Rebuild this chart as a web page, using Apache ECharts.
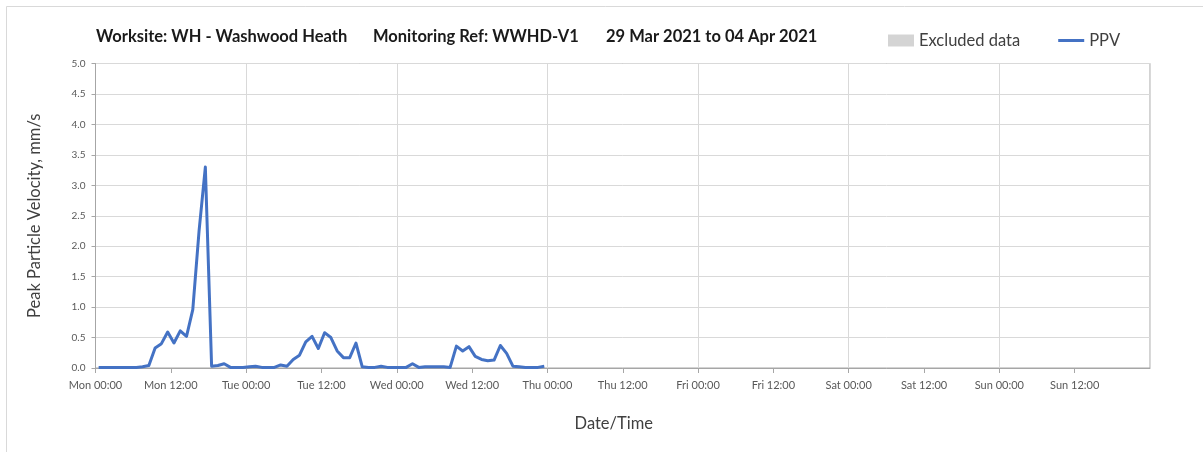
<!DOCTYPE html>
<html>
<head>
<meta charset="utf-8">
<title>PPV – WWHD-V1</title>
<script src="https://cdn.jsdelivr.net/npm/echarts@6/dist/echarts.min.js"></script>
<style>
  html, body { margin: 0; padding: 0; background: #ffffff; }
  #chart { width: 1203px; height: 452px; }
</style>
</head>
<body>
<div id="chart"></div>
<script>
// Hours elapsed since Mon 29 Mar 2021 00:00 for each hourly PPV reading
const sampleHours = [
  0.5, 1.5, 2.5, 3.5, 4.5, 5.5, 6.5, 7.5, 8.5, 9.5, 10.5, 11.5,
  12.5, 13.5, 14.5, 15.5, 16.5, 17.5, 18.5, 19.5, 20.5, 21.5, 22.5, 23.5,
  24.5, 25.5, 26.5, 27.5, 28.5, 29.5, 30.5, 31.5, 32.5, 33.5, 34.5, 35.5,
  36.5, 37.5, 38.5, 39.5, 40.5, 41.5, 42.5, 43.5, 44.5, 45.5, 46.5, 47.5,
  48.5, 49.5, 50.5, 51.5, 52.5, 53.5, 54.5, 55.5, 56.5, 57.5, 58.5, 59.5,
  60.5, 61.5, 62.5, 63.5, 64.5, 65.5, 66.5, 67.5, 68.5, 69.5, 70.5, 71.5
];

// Peak particle velocity, mm/s
const ppvValues = [
  0.01, 0.01, 0.01, 0.01, 0.01, 0.01, 0.01, 0.02, 0.04, 0.33, 0.40, 0.59,
  0.41, 0.61, 0.52, 0.96, 2.25, 3.30, 0.03, 0.04, 0.07, 0.01, 0.01, 0.01,
  0.02, 0.03, 0.01, 0.01, 0.01, 0.05, 0.03, 0.14, 0.21, 0.43, 0.52, 0.32,
  0.58, 0.50, 0.28, 0.17, 0.17, 0.41, 0.02, 0.01, 0.01, 0.03, 0.01, 0.01,
  0.01, 0.01, 0.07, 0.01, 0.02, 0.02, 0.02, 0.02, 0.01, 0.36, 0.28, 0.35,
  0.19, 0.14, 0.12, 0.13, 0.37, 0.24, 0.03, 0.02, 0.01, 0.01, 0.01, 0.03
];

// Excluded periods (none in this week)
const excludedData = [];

// x-axis labels every 12 hours across the week
const xTickLabels = [
  'Mon 00:00', 'Mon 12:00', 'Tue 00:00', 'Tue 12:00', 'Wed 00:00', 'Wed 12:00',
  'Thu 00:00', 'Thu 12:00', 'Fri 00:00', 'Fri 12:00', 'Sat 00:00', 'Sat 12:00',
  'Sun 00:00', 'Sun 12:00'
];

const titleParts = [
  'Worksite: WH - Washwood Heath',
  'Monitoring Ref: WWHD-V1',
  '29 Mar 2021 to 04 Apr 2021'
];

const FONT = 'Lato, "Open Sans", sans-serif';
const chart = echarts.init(document.getElementById('chart'), null, { renderer: 'canvas' });

const titleStyle = { fontFamily: FONT, fontSize: 16.5, fontWeight: 'bold', color: '#1a1a1a' };

chart.setOption({
  backgroundColor: '#ffffff',
  animation: false,
  graphic: [{
    type: 'rect',
    shape: { x: 6.5, y: 6.5, width: 1300, height: 600 },
    style: { fill: 'none', stroke: '#d9d9d9', lineWidth: 1 },
    silent: true
  }],
  title: [
    { text: titleParts[0], left: 96, top: 28, padding: 0, textStyle: titleStyle },
    { text: titleParts[1], left: 373, top: 28, padding: 0, textStyle: titleStyle },
    { text: titleParts[2], left: 606, top: 28, padding: 0, textStyle: titleStyle }
  ],
  legend: {
    left: 888,
    top: 32,
    padding: 0,
    itemWidth: 26,
    itemHeight: 12,
    itemGap: 38,
    textStyle: { fontFamily: FONT, fontSize: 16.5, color: '#404040' },
    data: [
      { name: 'Excluded data', icon: 'rect', itemStyle: { color: '#d4d4d4' } },
      { name: 'PPV', icon: 'path://M0,0L26,0L26,3L0,3Z', itemStyle: { color: '#4472c4' } }
    ]
  },
  grid: {
    left: 95.5,
    right: 53,
    top: 63.5,
    bottom: 84,
    show: true,
    borderColor: '#a6a6a6',
    borderWidth: 1,
    backgroundColor: 'transparent'
  },
  xAxis: [
    {
      type: 'value',
      min: 0,
      max: 168,
      interval: 12,
      name: 'Date/Time',
      nameLocation: 'middle',
      nameGap: 47,
      nameTextStyle: { fontFamily: FONT, fontSize: 16.5, color: '#404040', padding: [0, 18, 0, 0] },
      axisLine: { show: true, lineStyle: { color: '#a6a6a6', width: 1 } },
      axisTick: { show: true, length: 5, lineStyle: { color: '#a6a6a6' } },
      axisLabel: {
        fontFamily: FONT,
        fontSize: 11,
        color: '#595959',
        margin: 12,
        showMaxLabel: false,
        formatter: function (v) {
          const i = Math.round(v / 12);
          return xTickLabels[i] || '';
        }
      },
      splitLine: { show: false }
    },
    {
      // daily gridlines
      type: 'value',
      min: 0,
      max: 168,
      interval: 24,
      position: 'bottom',
      axisLine: { show: false },
      axisTick: { show: false },
      axisLabel: { show: false },
      splitLine: { show: true, lineStyle: { color: '#d9d9d9', width: 1 } }
    }
  ],
  yAxis: {
    type: 'value',
    min: 0,
    max: 5,
    interval: 0.5,
    name: 'Peak Particle Velocity, mm/s',
    nameLocation: 'middle',
    nameGap: 52,
    nameTextStyle: { fontFamily: FONT, fontSize: 16.5, color: '#404040' },
    axisLine: { show: true, lineStyle: { color: '#a6a6a6', width: 1 } },
    axisTick: { show: true, length: 4, lineStyle: { color: '#a6a6a6' } },
    axisLabel: {
      fontFamily: FONT,
      fontSize: 10,
      color: '#595959',
      margin: 10,
      formatter: function (v) { return v.toFixed(1); }
    },
    splitLine: { show: true, lineStyle: { color: '#d9d9d9', width: 1 } }
  },
  series: [
    {
      name: 'Excluded data',
      type: 'bar',
      xAxisIndex: 0,
      itemStyle: { color: '#d4d4d4' },
      data: excludedData
    },
    {
      name: 'PPV',
      type: 'line',
      xAxisIndex: 0,
      symbol: 'none',
      showSymbol: false,
      lineStyle: { color: '#4472c4', width: 3, join: 'round' },
      itemStyle: { color: '#4472c4' },
      data: sampleHours.map((h, i) => [h, ppvValues[i]])
    }
  ]
});
</script>
</body>
</html>
